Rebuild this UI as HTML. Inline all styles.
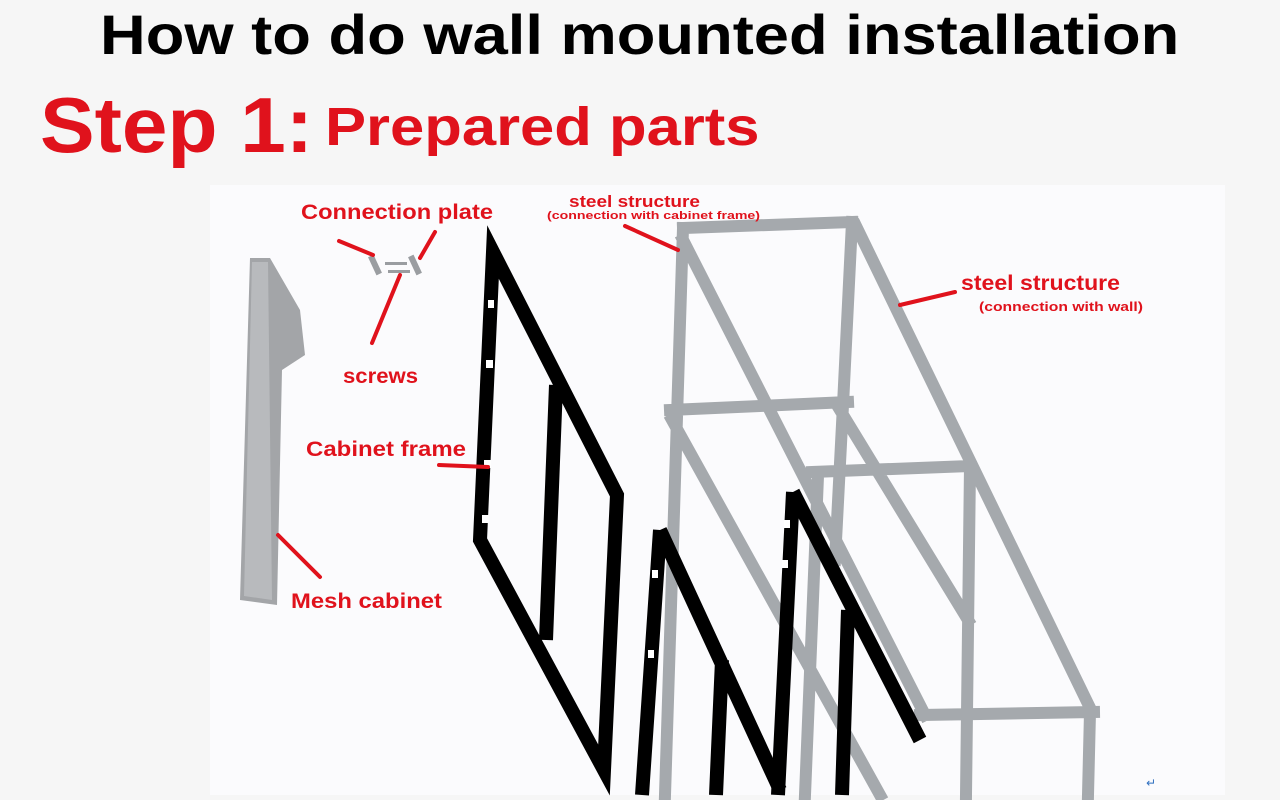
<!DOCTYPE html>
<html><head><meta charset="utf-8"><style>
body{margin:0;width:1280px;height:800px;background:#f6f6f6;overflow:hidden;font-family:"Liberation Sans","DejaVu Sans",sans-serif;position:relative}
.t{position:absolute;font-weight:bold;white-space:nowrap;transform-origin:0 0}
</style></head><body>
<div class="t" style="left:100px;top:2px;font-size:56px;color:#000;transform:scaleX(1.13)">How to do wall mounted installation</div>
<div class="t" style="left:40px;top:80px;font-size:78px;color:#e0121c;transform:scaleX(1.05)">Step 1:</div>
<div class="t" style="left:325px;top:96px;font-size:54px;color:#e0121c;transform:scaleX(1.14)">Prepared parts</div>
<svg style="position:absolute;left:0;top:0" width="1280" height="800">
<rect x="210" y="185" width="1015" height="610" fill="#fbfbfd"/>
<g fill="none" stroke="#a5a9ad" stroke-width="12" stroke-linecap="square">
<path d="M683 228 L852 222 M683 228 L665 795 M852 222 L843 405 M683 240 L925 715 M856 226 L1092 712 M670 410 L848 402 M672 420 L880 795 M812 472 L970 466 M840 410 L968 620 M970 466 L966 795 M920 715 L1094 712 M1090 712 L1088 795 M818 476 L805 795 M843 405 L835 560"/>
</g>
<g fill="none" stroke="#000" stroke-width="14">
<path d="M493 252 L617 495 L604 770 L480 540 Z M556 385 L546 640"/>
<path d="M660 530 L780 790 M660 530 L642 795 M722 660 L716 795"/>
<path d="M793 492 L920 740 M793 492 L778 795 M848 610 L842 795"/>
</g>
<g fill="#fff"><rect x="488" y="300" width="6" height="8"/><rect x="486" y="360" width="7" height="8"/><rect x="484" y="460" width="7" height="8"/><rect x="482" y="515" width="7" height="8"/><rect x="652" y="570" width="6" height="8"/><rect x="648" y="650" width="6" height="8"/><rect x="784" y="520" width="6" height="8"/><rect x="782" y="560" width="6" height="8"/></g>
<polygon points="250,258 270,258 300,310 305,355 282,370 277,605 240,600" fill="#a3a5a8"/>
<polygon points="252,262 268,262 272,600 244,596" fill="#b8babd"/>
<g fill="#9a9da1"><rect x="372" y="255" width="6" height="20" transform="rotate(-25 375 265)"/><rect x="412" y="255" width="6" height="20" transform="rotate(-25 415 265)"/><rect x="385" y="262" width="22" height="3"/><rect x="388" y="270" width="22" height="3"/></g>
<g stroke="#e0121c" stroke-width="4" fill="none" stroke-linecap="round">
<path d="M339 241 L373 255 M435 232 L420 258 M400 275 L372 343 M625 226 L678 250 M955 292 L900 305 M439 465 L488 467 M320 577 L278 535"/>
</g>
<g fill="#e0121c" font-weight="bold" font-family="Liberation Sans,sans-serif" lengthAdjust="spacingAndGlyphs">
<text x="301" y="219" font-size="21" textLength="192" lengthAdjust="spacingAndGlyphs">Connection plate</text>
<text x="343" y="383" font-size="21" textLength="75" lengthAdjust="spacingAndGlyphs">screws</text>
<text x="306" y="456" font-size="21" textLength="160" lengthAdjust="spacingAndGlyphs">Cabinet frame</text>
<text x="291" y="608" font-size="21" textLength="151" lengthAdjust="spacingAndGlyphs">Mesh cabinet</text>
<text x="569" y="207" font-size="17" textLength="131" lengthAdjust="spacingAndGlyphs">steel structure</text>
<text x="547" y="219" font-size="11" textLength="213" lengthAdjust="spacingAndGlyphs">(connection with cabinet frame)</text>
<text x="961" y="290" font-size="21" textLength="159" lengthAdjust="spacingAndGlyphs">steel structure</text>
<text x="979" y="311" font-size="13" textLength="164" lengthAdjust="spacingAndGlyphs">(connection with wall)</text>
</g>
<text x="1146" y="787" font-size="12" fill="#3070c0">↵</text>
</svg>
</body></html>
